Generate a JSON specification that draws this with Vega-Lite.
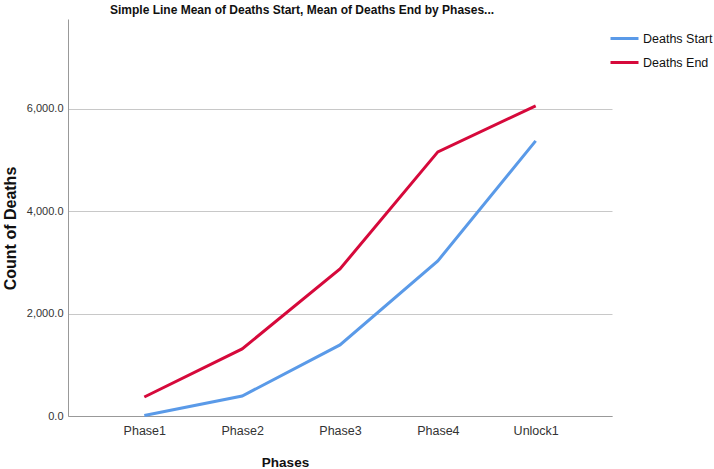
{
  "$schema": "https://vega.github.io/schema/vega-lite/v6.json",
  "width": 544,
  "height": 397,
  "autosize": "none",
  "padding": {"left": 68, "top": 19, "right": 102, "bottom": 53},
  "background": "white",
  "title": {
    "text": "Simple Line Mean of Deaths Start, Mean of Deaths End by Phases...",
    "anchor": "start",
    "frame": "group",
    "dx": 42,
    "offset": 2,
    "font": "Liberation Sans",
    "fontSize": 12,
    "fontWeight": "bold",
    "color": "#111"
  },
  "data": {
    "values": [
      {"phase": "Phase1", "series": "Deaths Start", "value": 10},
      {"phase": "Phase2", "series": "Deaths Start", "value": 390},
      {"phase": "Phase3", "series": "Deaths Start", "value": 1387},
      {"phase": "Phase4", "series": "Deaths Start", "value": 3028},
      {"phase": "Unlock1", "series": "Deaths Start", "value": 5371},
      {"phase": "Phase1", "series": "Deaths End", "value": 371},
      {"phase": "Phase2", "series": "Deaths End", "value": 1309},
      {"phase": "Phase3", "series": "Deaths End", "value": 2871},
      {"phase": "Phase4", "series": "Deaths End", "value": 5156},
      {"phase": "Unlock1", "series": "Deaths End", "value": 6055}
    ]
  },
  "mark": {"type": "line", "strokeWidth": 3, "strokeJoin": "miter", "strokeCap": "butt"},
  "encoding": {
    "x": {
      "field": "phase",
      "type": "ordinal",
      "sort": ["Phase1", "Phase2", "Phase3", "Phase4", "Unlock1"],
      "scale": {"type": "point", "padding": 0.78},
      "axis": {
        "title": "Phases",
        "titleFont": "Liberation Sans",
        "titleFontSize": 13.5,
        "titleFontWeight": "bold",
        "titleColor": "#111",
        "titleX": 217,
        "titleY": 46,
        "titleBaseline": "middle",
        "labelAngle": 0,
        "labelFont": "Liberation Sans",
        "labelFontSize": 12.5,
        "labelColor": "#333",
        "labelPadding": 8,
        "ticks": false,
        "domainColor": "#999",
        "domainWidth": 1,
        "grid": false
      }
    },
    "y": {
      "field": "value",
      "type": "quantitative",
      "scale": {"domain": [0, 7750], "nice": false},
      "axis": {
        "title": "Count of Deaths",
        "titleFont": "Liberation Sans",
        "titleFontSize": 16,
        "titleFontWeight": "bold",
        "titleColor": "#111",
        "titleX": -58,
        "titleY": 209,
        "titleAngle": -90,
        "titleAlign": "center",
        "titleBaseline": "middle",
        "values": [0, 2000, 4000, 6000],
        "format": ",.1f",
        "labelFont": "Liberation Sans",
        "labelFontSize": 11,
        "labelColor": "#333",
        "labelPadding": 5,
        "ticks": false,
        "domainColor": "#999",
        "domainWidth": 1,
        "grid": true,
        "gridColor": "#c8c8c8",
        "gridWidth": 1
      }
    },
    "color": {
      "field": "series",
      "type": "nominal",
      "sort": ["Deaths Start", "Deaths End"],
      "scale": {"domain": ["Deaths Start", "Deaths End"], "range": ["#5a9ae8", "#d6093b"]},
      "legend": {
        "title": null,
        "orient": "none",
        "legendX": 541,
        "legendY": 4,
        "symbolType": "stroke",
        "symbolStrokeWidth": 3,
        "symbolSize": 784,
        "labelFont": "Liberation Sans",
        "labelFontSize": 12.5,
        "labelColor": "#111",
        "rowPadding": 2,
        "labelOffset": 3
      }
    }
  },
  "config": {"view": {"stroke": null}}
}
